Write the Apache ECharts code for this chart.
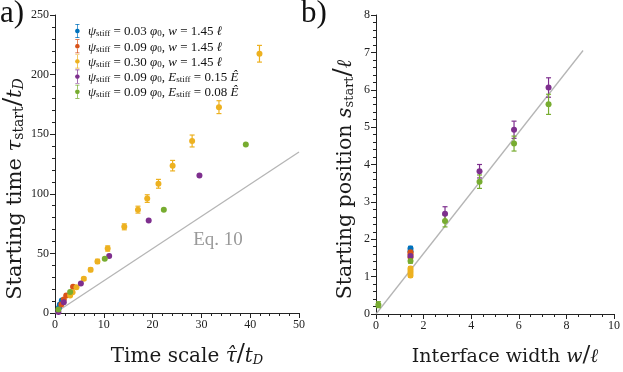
<!DOCTYPE html>
<html><head><meta charset="utf-8">
<script src="https://cdn.jsdelivr.net/npm/echarts@6/dist/echarts.min.js"></script>
<style>html,body{margin:0;padding:0;background:#fff}#c{width:623px;height:372px}</style>
</head><body><div id="c"></div>
<script>
// ---------- Panel a) : starting time vs time scale ----------
const a_blue_x = [0.8, 1.0, 1.4];
const a_blue_y = [4.4, 7.2, 10.5];
const a_red_x = [1.3, 1.8, 2.3, 3.7];
const a_red_y = [7.2, 11.3, 14.6, 22.1];
const a_yel_x = [3.1, 3.6, 4.4, 5.9, 7.3, 8.7, 10.8, 14.2, 17.0, 18.9, 21.2, 24.1, 28.1, 33.6, 41.9];
const a_yel_y = [14.6, 17.4, 21.5, 28.7, 36.2, 43.3, 54.1, 72.3, 86.7, 96.0, 108.4, 123.6, 144.3, 172.7, 217.5];
const a_yel_e = [0.6, 0.7, 0.9, 1.2, 1.5, 1.8, 2.2, 2.5, 2.9, 3.2, 3.7, 4.4, 5.0, 5.4, 7.0];
const a_pur_x = [0.7, 1.8, 5.3, 11.1, 19.2, 29.6];
const a_pur_y = [0.8, 9.1, 24.8, 47.8, 77.5, 115.3];
const a_grn_x = [0.7, 3.1, 10.2, 22.3, 39.1];
const a_grn_y = [3.0, 17.6, 45.5, 86.7, 141.3];
const a_eq10_x = [0, 50];
const a_eq10_y = [0, 135];
const a_eqLabel = [33.4, 61];

// ---------- Panel b) : starting position vs interface width ----------
const b_blue_w = [1.45, 1.45];
const b_blue_s = [1.75, 1.68];
const b_blue_e = [0.06, 0.06];
const b_red_w = [1.45, 1.45, 1.45];
const b_red_s = [1.65, 1.60, 1.52];
const b_red_e = [0.05, 0.05, 0.05];
const b_yel_w = [1.45, 1.45, 1.45, 1.45];
const b_yel_s = [1.22, 1.16, 1.10, 1.03];
const b_yel_e = [0.05, 0.05, 0.05, 0.05];
const b_pur_w = [1.45, 2.9, 4.35, 5.8, 7.25];
const b_pur_s = [1.55, 2.68, 3.82, 4.93, 6.06];
const b_pur_e = [0.06, 0.19, 0.18, 0.23, 0.26];
const b_grn_w = [0.1, 1.45, 2.9, 4.35, 5.8, 7.25];
const b_grn_s = [0.25, 1.42, 2.49, 3.54, 4.56, 5.61];
const b_grn_e = [0.08, 0.06, 0.16, 0.18, 0.20, 0.27];
const b_line_w = [0, 8.7];
const b_line_s = [0, 7.05];

// ---------- labels ----------
const seriesNames = ['s1', 's2', 's3', 's4', 's5'];
const legendPsi = ['0.03', '0.09', '0.30', '0.09', '0.09'];
const legendSecondVar = ['w', 'w', 'w', 'E', 'E'];
const legendSecondVal = ['1.45', '1.45', '1.45', '0.15', '0.08'];
const colors = ['#0072BD', '#D95319', '#EDB120', '#7E2F8E', '#77AC30'];
const xTicksA = [0, 10, 20, 30, 40, 50];
const yTicksA = [0, 50, 100, 150, 200, 250];
const xTicksB = [0, 2, 4, 6, 8, 10];
const yTicksB = [0, 1, 2, 3, 4, 5, 6, 7, 8];

const FONT = "'Liberation Serif','DejaVu Serif',serif";
const NFONT = "'DejaVu Serif','Liberation Serif',serif";
const zip = (xs, ys) => xs.map((x, i) => [x, ys[i]]);
const zip3 = (xs, ys, es) => xs.map((x, i) => [x, ys[i], es[i]]);

function legendText(i) {
  let s = '{i|ψ}{s|stiff}{r| = ' + legendPsi[i] + ' }{i|φ}{s|0}{r|, }';
  if (legendSecondVar[i] === 'w') s += '{i|w}{r| = ' + legendSecondVal[i] + ' }{i|ℓ}';
  else s += '{i|E}{s|stiff}{r| = ' + legendSecondVal[i] + ' }{i|Ê}';
  return s;
}

const NC = '#1a1a1a';
function makeRich(fs) {
  const sub = Math.round(fs * 0.65);
  return {
    r: {fontFamily: NFONT, fontSize: fs, lineHeight: fs + 8, verticalAlign: 'bottom', color: NC},
    i: {fontFamily: NFONT, fontSize: fs, lineHeight: fs + 8, fontStyle: 'italic', verticalAlign: 'bottom', color: NC},
    sl: {fontFamily: NFONT, fontSize: fs + 4, lineHeight: fs + 10, verticalAlign: 'bottom', color: NC},
    s: {fontFamily: NFONT, fontSize: sub, lineHeight: sub, verticalAlign: 'bottom', color: NC},
    si: {fontFamily: NFONT, fontSize: sub, lineHeight: sub, fontStyle: 'italic', verticalAlign: 'bottom', color: NC}
  };
}

function errRender(params, api) {
  const x = api.value(0), y = api.value(1), e = api.value(2);
  const lo = api.coord([x, y - e]);
  const hi = api.coord([x, y + e]);
  const c = api.visual('color');
  const cw = 2.5;
  const st = {stroke: c, lineWidth: 1.2};
  return {type: 'group', children: [
    {type: 'line', shape: {x1: lo[0], y1: lo[1], x2: hi[0], y2: hi[1]}, style: st},
    {type: 'line', shape: {x1: lo[0] - cw, y1: lo[1], x2: lo[0] + cw, y2: lo[1]}, style: st},
    {type: 'line', shape: {x1: hi[0] - cw, y1: hi[1], x2: hi[0] + cw, y2: hi[1]}, style: st}
  ]};
}

function axisCommon(min, max, interval, minorSplit) {
  return {
    min: min, max: max, interval: interval,
    axisLine: {show: true, lineStyle: {color: '#222', width: 1}},
    axisTick: {show: true, length: 5, lineStyle: {color: '#222'}},
    minorTick: {show: true, splitNumber: minorSplit, length: 3, lineStyle: {color: '#222'}},
    splitLine: {show: false},
    axisLabel: {fontFamily: FONT, fontSize: 12, color: '#222', margin: 6}
  };
}

const series = [];
series.push({type: 'line', xAxisIndex: 0, yAxisIndex: 0, data: zip(a_eq10_x, a_eq10_y), symbol: 'none',
  lineStyle: {color: '#b5b5b5', width: 1.3}, silent: true, z: 1});
series.push({type: 'line', xAxisIndex: 1, yAxisIndex: 1, data: zip(b_line_w, b_line_s), symbol: 'none',
  lineStyle: {color: '#b5b5b5', width: 1.3}, silent: true, z: 1});

const aPts = [zip(a_blue_x, a_blue_y), zip(a_red_x, a_red_y), zip(a_yel_x, a_yel_y), zip(a_pur_x, a_pur_y), zip(a_grn_x, a_grn_y)];
const aErr = [null, null, zip3(a_yel_x, a_yel_y, a_yel_e), null, null];
const bPts = [zip(b_blue_w, b_blue_s), zip(b_red_w, b_red_s), zip(b_yel_w, b_yel_s), zip(b_pur_w, b_pur_s), zip(b_grn_w, b_grn_s)];
const bErr = [zip3(b_blue_w, b_blue_s, b_blue_e), zip3(b_red_w, b_red_s, b_red_e), zip3(b_yel_w, b_yel_s, b_yel_e), zip3(b_pur_w, b_pur_s, b_pur_e), zip3(b_grn_w, b_grn_s, b_grn_e)];

for (let k = 0; k < 5; k++) {
  if (aErr[k]) series.push({type: 'custom', name: seriesNames[k], xAxisIndex: 0, yAxisIndex: 0, data: aErr[k],
    renderItem: errRender, itemStyle: {color: colors[k]}, z: 2, silent: true});
  series.push({type: 'scatter', name: seriesNames[k], xAxisIndex: 0, yAxisIndex: 0, data: aPts[k],
    symbolSize: 6, itemStyle: {color: colors[k], opacity: 1}, z: 3, silent: true});
  series.push({type: 'custom', name: seriesNames[k], xAxisIndex: 1, yAxisIndex: 1, data: bErr[k],
    renderItem: errRender, itemStyle: {color: colors[k]}, z: 2, silent: true});
  series.push({type: 'scatter', name: seriesNames[k], xAxisIndex: 1, yAxisIndex: 1, data: bPts[k],
    symbolSize: 6, itemStyle: {color: colors[k], opacity: 1}, z: 3, silent: true});
}

const iconPath = 'path://M2,0H8V1H5.5V6.5H4.5V1H2Z M4.5,13.5H5.5V19H8V20H2V19H4.5Z M5,6.6L7.4,7.6L8.4,10L7.4,12.4L5,13.4L2.6,12.4L1.6,10L2.6,7.6Z';

const chart = echarts.init(document.getElementById('c'), null, {renderer: 'canvas'});
chart.setOption({
  backgroundColor: '#fff',
  animation: false,
  grid: [
    {left: 55, top: 15, width: 244, height: 302},
    {left: 376, top: 15, width: 241, height: 302}
  ],
  xAxis: [
    Object.assign(axisCommon(xTicksA[0], xTicksA[xTicksA.length - 1], xTicksA[1] - xTicksA[0], 5), {
      type: 'value', gridIndex: 0, name: '{r|Time scale }{i|τ̂}{sl|/}{i|t}{si|D}',
      nameLocation: 'middle', nameGap: 24, nameTextStyle: {rich: makeRich(20), padding: [0, 0, 0, 20]}}),
    Object.assign(axisCommon(xTicksB[0], xTicksB[xTicksB.length - 1], xTicksB[1] - xTicksB[0], 4), {
      type: 'value', gridIndex: 1, name: '{r|Interface width }{i|w}{sl|/}{i|ℓ}',
      nameLocation: 'middle', nameGap: 24, nameTextStyle: {rich: makeRich(19), padding: [0, 0, 0, 20]}})
  ],
  yAxis: [
    Object.assign(axisCommon(yTicksA[0], yTicksA[yTicksA.length - 1], yTicksA[1] - yTicksA[0], 5), {
      type: 'value', gridIndex: 0, name: '{r|Starting time }{i|τ}{s|start}{sl|/}{i|t}{si|D}',
      nameLocation: 'middle', nameGap: 29, nameRotate: 90, nameTextStyle: {rich: makeRich(21), padding: [0, 50, 0, 0]}}),
    Object.assign(axisCommon(yTicksB[0], yTicksB[yTicksB.length - 1], yTicksB[1] - yTicksB[0], 5), {
      type: 'value', gridIndex: 1, name: '{r|Starting position }{i|s}{s|start}{sl|/}{i|ℓ}',
      nameLocation: 'middle', nameGap: 20, nameRotate: 90, nameTextStyle: {rich: makeRich(20.5), padding: [0, 30, 0, 0]}})
  ],
  legend: {
    orient: 'vertical', left: 70, top: 19, itemWidth: 7, itemHeight: 14, itemGap: 0.7,
    selectedMode: false,
    data: seriesNames.map(n => ({name: n, icon: iconPath})),
    formatter: function (name) { return legendText(seriesNames.indexOf(name)); },
    textStyle: {
      fontFamily: FONT, padding: [0, 0, 0, 2],
      rich: {
        r: {fontFamily: FONT, fontSize: 13, lineHeight: 15, verticalAlign: 'bottom', color: '#111'},
        i: {fontFamily: FONT, fontSize: 13, lineHeight: 15, fontStyle: 'italic', verticalAlign: 'bottom', color: '#111'},
        s: {fontFamily: FONT, fontSize: 9, lineHeight: 7.5, verticalAlign: 'bottom', color: '#111'}
      }
    }
  },
  series: series
});

const eqPos = chart.convertToPixel({gridIndex: 0}, a_eqLabel);
chart.setOption({
  graphic: [
    {type: 'text', left: 0, top: -2, style: {text: 'a)', font: '31px ' + FONT, fill: '#111'}},
    {type: 'text', left: 301, top: -2, style: {text: 'b)', font: '31px ' + FONT, fill: '#111'}},
    {type: 'text', x: eqPos[0], y: eqPos[1], style: {text: 'Eq. 10', font: '19px ' + FONT, fill: '#999', align: 'center', verticalAlign: 'middle'}}
  ]
});
</script></body></html>
